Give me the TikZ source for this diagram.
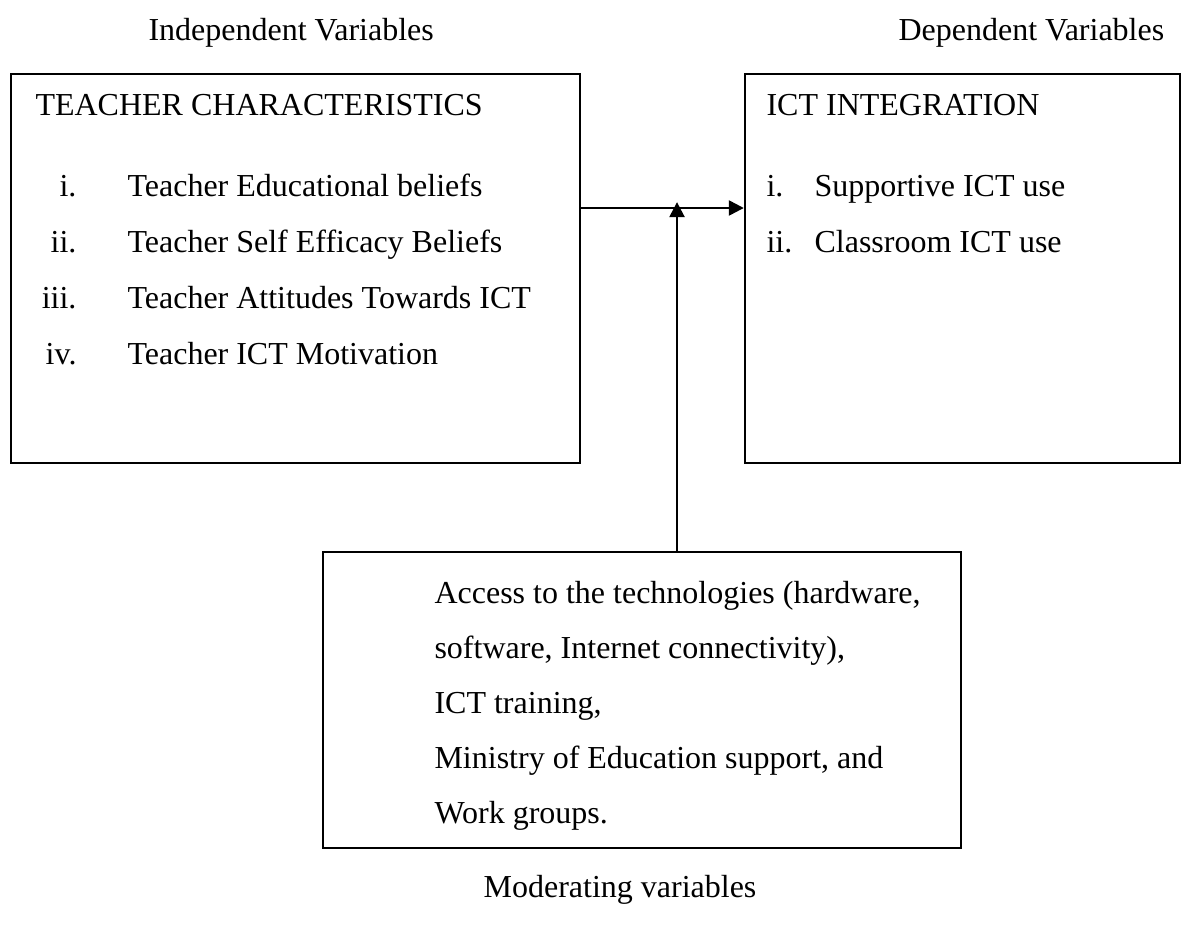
\documentclass[tikz,border=0pt]{standalone}
\usepackage{fontspec}
\setmainfont{Liberation Serif}
\usetikzlibrary{arrows.meta,fit}

\begin{document}
\begin{tikzpicture}[x=0.375pt,y=-0.375pt,
  box/.style={draw, line width=0.9pt, inner sep=0pt},
  txt/.style={anchor=base west, inner sep=0pt, font=\fontsize{12}{14}\selectfont},
  arr/.style={line width=0.9pt, -{Triangle[length=5.6pt,width=5.6pt]}}]
\useasboundingbox (0,0) rectangle (1182,925);
%% Headings
\node[txt] (indep) at (148,40) {Independent Variables};
\node[txt] (dep) at (898,40) {Dependent Variables};
%% Boxes
\node[box, fit={(10.7,74) (580,462.7)}] (tc) {};
\node[box, fit={(745,74) (1180,462.7)}] (ict) {};
\node[box, fit={(322.7,552) (961,848)}] (mod) {};
%% Teacher characteristics
\node[txt] (tctitle) at (35,115) {TEACHER CHARACTERISTICS};
\foreach \n/\t [count=\k] in {i./Teacher Educational beliefs,
    ii./Teacher Self Efficacy Beliefs,
    iii./Teacher Attitudes Towards ICT,
    iv./Teacher ICT Motivation}{
  \node[txt, anchor=base east] (tcn\k) at (77,140+56*\k) {\n};
  \node[txt] (tci\k) at (127,140+56*\k) {\t};
}
%% ICT integration
\node[txt] (icttitle) at (766,115) {ICT INTEGRATION};
\foreach \n/\t [count=\k] in {i./Supportive ICT use, ii./Classroom ICT use}{
  \node[txt] (ictn\k) at (766,140+56*\k) {\n};
  \node[txt] (icti\k) at (814,140+56*\k) {\t};
}
%% Moderating variables
\foreach \t [count=\k] in {{Access to the technologies (hardware,},
    {software, Internet connectivity),},
    {ICT training,},
    {Ministry of Education support, and},
    {Work groups.}}{
  \node[txt] (modl\k) at (434,548+55*\k) {\t};
}
\node[txt, anchor=base] (modlab) at (620,897) {Moderating variables};
%% Arrows
\coordinate (join) at (677,208);
\draw[arr] (tc.east |- join) -- (ict.west |- join);
\draw[arr] (mod.north -| join) -- ([yshift=2.2pt]join);
\end{tikzpicture}
\end{document}
